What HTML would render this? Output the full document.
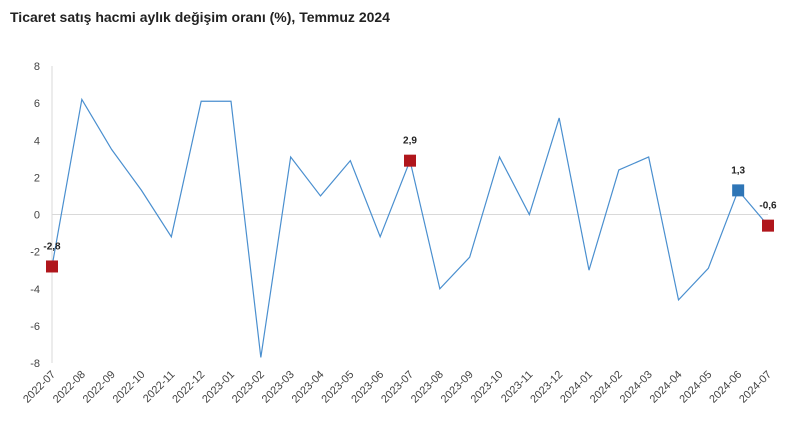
<!DOCTYPE html>
<html><head><meta charset="utf-8"><style>
body{margin:0;background:#fff;font-family:"Liberation Sans",sans-serif}
</style></head><body>
<svg id="chart" width="800" height="427" xmlns="http://www.w3.org/2000/svg">
<text x="10" y="22" font-size="14" font-weight="bold" fill="#222" font-family="Liberation Sans, sans-serif">Ticaret satış hacmi aylık değişim oranı (%), Temmuz 2024</text>
<g id="axes"></g><g id="series"></g>
</svg>
<script>
const categories=["2022-07","2022-08","2022-09","2022-10","2022-11","2022-12","2023-01","2023-02","2023-03","2023-04","2023-05","2023-06","2023-07","2023-08","2023-09","2023-10","2023-11","2023-12","2024-01","2024-02","2024-03","2024-04","2024-05","2024-06","2024-07"];
const values=[-2.8,6.2,3.5,1.3,-1.2,6.1,6.1,-7.7,3.1,1.0,2.9,-1.2,2.9,-4.0,-2.3,3.1,0.0,5.2,-3.0,2.4,3.1,-4.6,-2.9,1.3,-0.6];
const yTicks=[8,6,4,2,0,-2,-4,-6,-8];
const highlights=[{i:0,label:"-2,8",color:"#b0161c"},{i:12,label:"2,9",color:"#b0161c"},{i:23,label:"1,3",color:"#2e75b6"},{i:24,label:"-0,6",color:"#b0161c"}];
const NS="http://www.w3.org/2000/svg";
const x0=52,x1=768,yTop=66,yBot=363;
const X=i=>x0+(x1-x0)*i/(categories.length-1);
const Y=v=>yTop+(8-v)/16*(yBot-yTop);
function mk(t,a,p){const e=document.createElementNS(NS,t);for(const k in a)e.setAttribute(k,a[k]);p.appendChild(e);return e;}
const ax=document.getElementById('axes'),se=document.getElementById('series');
let l=mk('line',{x1:x0,x2:x0,y1:yTop,y2:yBot,stroke:'#d9d9d9'},ax);


l=mk('line',{x1:x0,x2:x1,y1:Y(0),y2:Y(0),stroke:'#d9d9d9'},ax);


yTicks.forEach(v=>{const t=mk('text',{x:40,y:Y(v)+4,'text-anchor':'end','font-size':11,fill:'#444'},ax);t.textContent=v;

});
categories.forEach((c,i)=>{const t=mk('text',{transform:`translate(${X(i)+4},${yBot+12}) rotate(-45)`,'text-anchor':'end','font-size':11,fill:'#444'},ax);t.textContent=c;

});
const p=mk('polyline',{points:values.map((v,i)=>X(i)+','+Y(v)).join(' '),fill:'none',stroke:'#4a8fcf','stroke-width':1.2},se);


highlights.forEach(h=>{const cx=X(h.i),cy=Y(values[h.i]);
const r=mk('rect',{x:cx-6,y:cy-6,width:12,height:12,fill:h.color},se);


const t=mk('text',{x:cx,y:cy-17,'text-anchor':'middle','font-size':10,'font-weight':'bold',fill:'#222'},se);t.textContent=h.label;

});
</script>
</body></html>
